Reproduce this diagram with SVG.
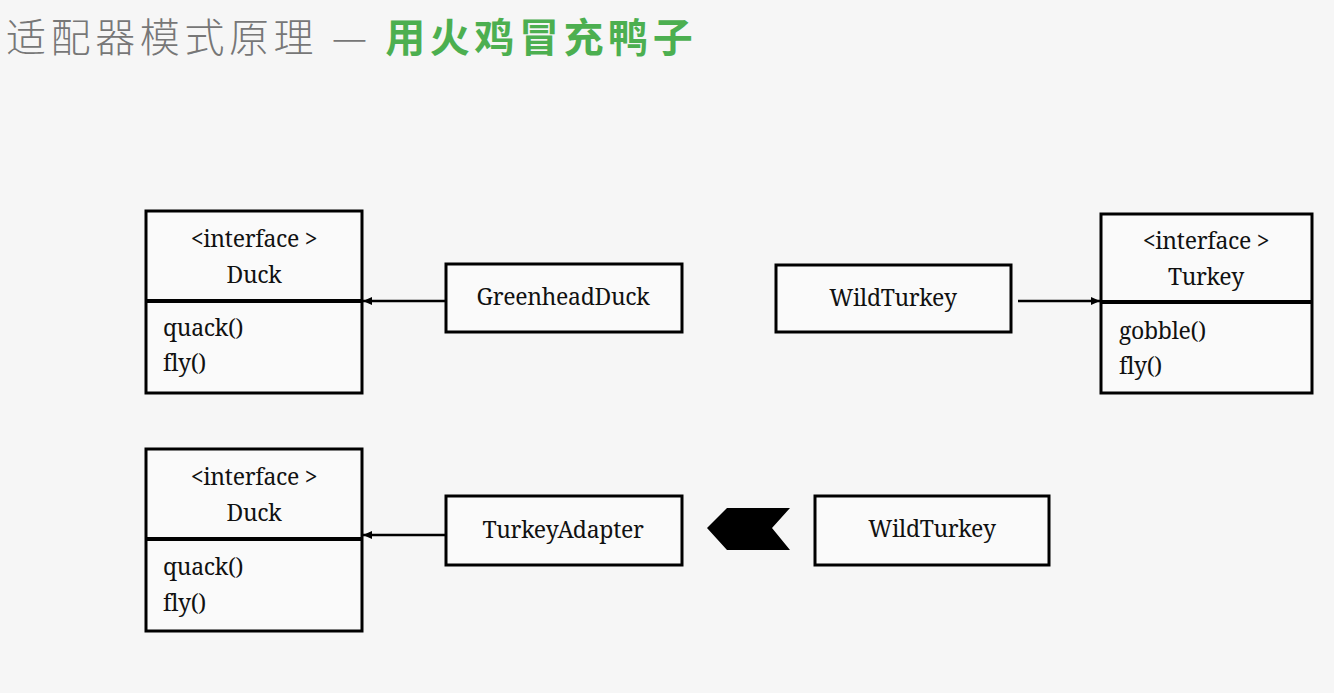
<svg xmlns="http://www.w3.org/2000/svg" width="1334" height="693" viewBox="0 0 1334 693">
<defs>
<style>
.box{fill:#fafafa;stroke:#000;stroke-width:3}
.div{stroke:#000;stroke-width:4}
.t{font-family:'Noto Serif','Liberation Serif',serif;font-size:23px;letter-spacing:-0.3px;fill:#111}
.c{text-anchor:middle}
.conn{stroke:#000;stroke-width:2.5;fill:none}
</style>
<marker id="ah" markerWidth="10" markerHeight="10" refX="9" refY="5" orient="auto" markerUnits="userSpaceOnUse">
<path d="M0,1 L9,5 L0,9 Z" fill="#000"/>
</marker>
</defs>
<rect width="1334" height="693" fill="#f6f6f6"/>
<g id="title">
<text x="6" y="52" font-family="'Noto Sans CJK SC',sans-serif" font-size="40" letter-spacing="4.6" font-weight="300" fill="#777">适配器模式原理 — <tspan fill="#4caf50" font-weight="700">用火鸡冒充鸭子</tspan></text>
</g>
<g id="duck1">
<rect class="box" x="146" y="211" width="216" height="182"/>
<line class="div" x1="146" y1="301" x2="362" y2="301"/>
<text class="t c" x="254" y="247">&lt;interface &gt;</text>
<text class="t c" x="254" y="283">Duck</text>
<text class="t" x="163" y="336">quack()</text>
<text class="t" x="163" y="371">fly()</text>
</g>
<g id="greenheadduck">
<rect class="box" x="446" y="264" width="236" height="68"/>
<text class="t c" x="563" y="305">GreenheadDuck</text>
</g>
<g id="wildturkey1">
<rect class="box" x="776" y="265" width="235" height="67"/>
<text class="t c" x="893" y="306">WildTurkey</text>
</g>
<g id="turkey">
<rect class="box" x="1101" y="214" width="211" height="179"/>
<line class="div" x1="1101" y1="302" x2="1312" y2="302"/>
<text class="t c" x="1206" y="249">&lt;interface &gt;</text>
<text class="t c" x="1206" y="285">Turkey</text>
<text class="t" x="1119" y="339">gobble()</text>
<text class="t" x="1119" y="374">fly()</text>
</g>
<g id="duck2">
<rect class="box" x="146" y="449" width="216" height="182"/>
<line class="div" x1="146" y1="539" x2="362" y2="539"/>
<text class="t c" x="254" y="485">&lt;interface &gt;</text>
<text class="t c" x="254" y="521">Duck</text>
<text class="t" x="163" y="575">quack()</text>
<text class="t" x="163" y="611">fly()</text>
</g>
<g id="turkeyadapter">
<rect class="box" x="446" y="496" width="236" height="69"/>
<text class="t c" x="563" y="538">TurkeyAdapter</text>
</g>
<g id="wildturkey2">
<rect class="box" x="815" y="496" width="234" height="69"/>
<text class="t c" x="932" y="537">WildTurkey</text>
</g>
<g id="connectors">
<line class="conn" x1="446" y1="301" x2="363" y2="301" marker-end="url(#ah)"/>
<line class="conn" x1="1018" y1="301" x2="1100" y2="301" marker-end="url(#ah)"/>
<line class="conn" x1="446" y1="535" x2="363" y2="535" marker-end="url(#ah)"/>
<path d="M707,528 L727,508 L790,508 L772,528 L790,550 L727,550 Z" fill="#000"/>
</g>
</svg>
